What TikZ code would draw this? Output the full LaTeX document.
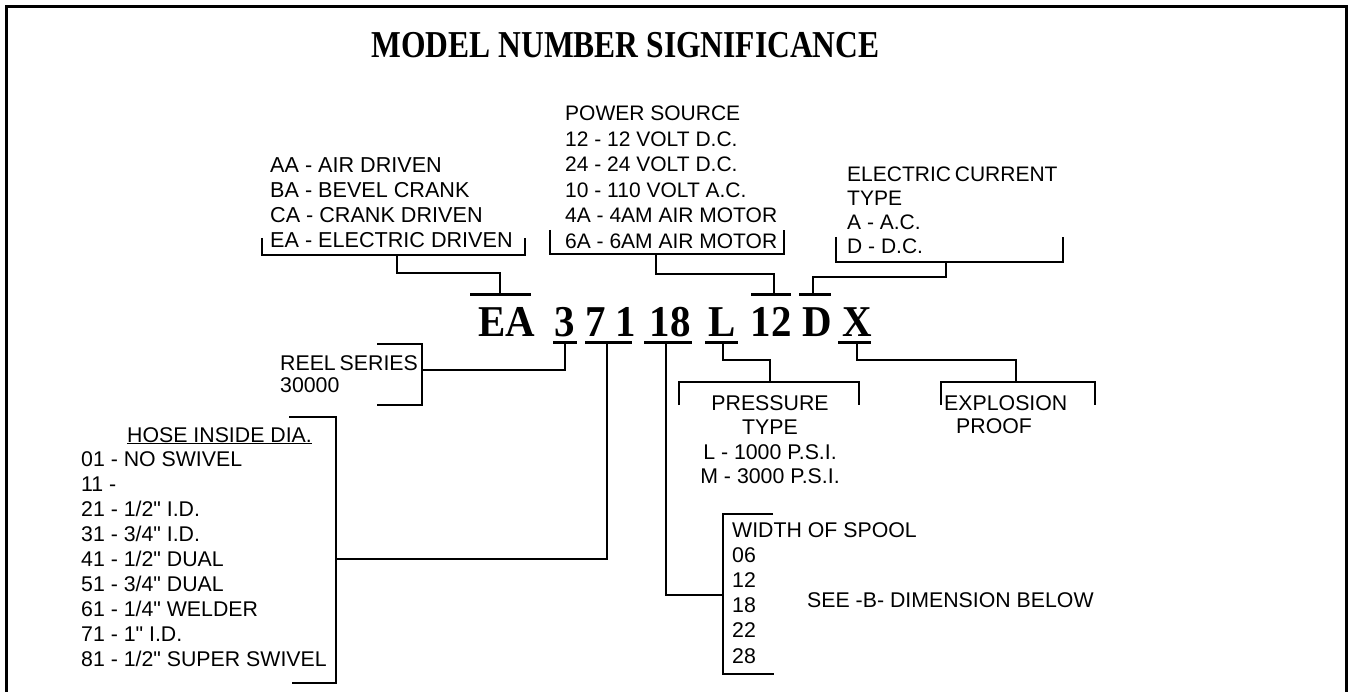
\documentclass[tikz,border=0pt]{standalone}
\usepackage{fontspec}
\usepackage{graphicx}
\setmainfont{Liberation Sans}[Ligatures=TeXOff]
\newfontfamily\tnr{Liberation Serif}
\tikzset{
  lbl/.style={inner sep=0pt, anchor=base west},
  clbl/.style={inner sep=0pt, anchor=base},
  conn/.style={line width=1.3pt},
  bar/.style={line width=3pt},
  digit/.style={inner sep=0pt, anchor=base, font=\tnr\bfseries\fontsize{44}{44}\selectfont},
  ttl/.style={inner sep=0pt, anchor=base, font=\tnr\bfseries\fontsize{38}{38}\selectfont},
}
\begin{document}
\begin{tikzpicture}[x=1pt,y=-1pt]
\useasboundingbox (0,0) rectangle (1348,692);
\draw[line width=2.5pt] (6.5,692) -- (6.5,6.5) -- (1346.5,6.5) -- (1346.5,692);

% title
\node[ttl] (title) at (625.5,58) {\scalebox{0.83}[1]{MODEL NUMBER SIGNIFICANCE}};

% model number
\node[digit] (mEA) at (506.5,336) {\scalebox{0.93}[1]{EA}};
\node[digit] (m3) at (565,336) {\scalebox{0.93}[1]{3}};
\node[digit] (m7) at (596,336) {\scalebox{0.93}[1]{7}};
\node[digit] (m1) at (625.5,336) {\scalebox{0.93}[1]{1}};
\node[digit] (m18) at (670,336) {\scalebox{0.93}[1]{18}};
\node[digit] (mL) at (722,336) {\scalebox{0.93}[1]{L}};
\node[digit] (m12) at (771,336) {\scalebox{0.93}[1]{12}};
\node[digit] (mD) at (817.5,336) {\scalebox{0.93}[1]{D}};
\node[digit] (mX) at (857,336) {\scalebox{0.93}[1]{X}};

% bars over / under characters
\coordinate (bEA) at (500,295);  \draw[bar] (470,295) -- (531,295);
\coordinate (b12) at (774,295);  \draw[bar] (751,295) -- (791,295);
\coordinate (bD)  at (813,295);  \draw[bar] (799,295) -- (831,295);
\coordinate (b3)  at (565,342);  \draw[bar] (553,342) -- (577,342);
\coordinate (b71) at (607,342);  \draw[bar] (585,342) -- (632,342);
\coordinate (b18) at (666,342);  \draw[bar] (644,342) -- (692,342);
\coordinate (bL)  at (723,342);  \draw[bar] (705,342) -- (738,342);
\coordinate (bX)  at (857,342);  \draw[bar] (838,342) -- (871,342);

% text blocks
\node[lbl, font=\fontsize{21.6}{24.7}\selectfont] (drive) at (270,173)
  {\begin{tabular}[t]{@{}l@{}}AA - AIR DRIVEN\\BA - BEVEL CRANK\\CA - CRANK DRIVEN\\EA - ELECTRIC DRIVEN\end{tabular}};
\node[lbl, font=\fontsize{21}{25.5}\selectfont] (power) at (565,121)
  {\begin{tabular}[t]{@{}l@{}}POWER SOURCE\\12 - 12 VOLT D.C.\\24 - 24 VOLT D.C.\\10 - 110 VOLT A.C.\\4A - 4AM AIR MOTOR\\6A - 6AM AIR MOTOR\end{tabular}};
\node[lbl, font=\fontsize{21}{24}\selectfont] (current) at (847,182)
  {\begin{tabular}[t]{@{}l@{}}ELECTRIC\hspace{-2pt} CURRENT\\TYPE\\A - A.C.\\D - D.C.\end{tabular}};
\node[lbl, font=\fontsize{21.3}{22}\selectfont] (reel) at (280,370)
  {\begin{tabular}[t]{@{}l@{}}REEL\hspace{-2pt} SERIES\\30000\end{tabular}};
\node[lbl, font=\fontsize{21.3}{24}\selectfont] (hosettl) at (127,442) {\underline{HOSE INSIDE DIA.}};
\node[lbl, font=\fontsize{21.3}{25.1}\selectfont] (hose) at (81,466)
  {\begin{tabular}[t]{@{}l@{}}01 - NO SWIVEL\\11 -\\21 - 1/2" I.D.\\31 - 3/4" I.D.\\41 - 1/2" DUAL\\51 - 3/4" DUAL\\61 - 1/4" WELDER\\71 - 1" I.D.\\81 - 1/2" SUPER SWIVEL\end{tabular}};
\node[clbl, font=\fontsize{21.3}{24.5}\selectfont] (press) at (770,410)
  {\begin{tabular}[t]{@{}c@{}}PRESSURE\\TYPE\\L - 1000 P.S.I.\\M - 3000 P.S.I.\end{tabular}};
\node[lbl, font=\fontsize{21.3}{23}\selectfont] (expl) at (944,410)
  {\begin{tabular}[t]{@{}l@{}}EXPLOSION\\\hspace{12pt}PROOF\end{tabular}};
\node[lbl, font=\fontsize{21.3}{25.2}\selectfont] (spool) at (732,537)
  {\begin{tabular}[t]{@{}l@{}}WIDTH OF SPOOL\\06\\12\\18\\22\\28\end{tabular}};
\node[lbl, font=\fontsize{21.3}{25}\selectfont] (seeb) at (807,607) {SEE -B- DIMENSION BELOW};

% brackets
\draw[conn] (262,238) -- (262,255) -- (525,255) -- (525,238);
\coordinate (kDrive) at (397,255);
\draw[conn] (550,230) -- (550,254) -- (784,254) -- (784,230);
\coordinate (kPower) at (656,254);
\draw[conn] (836,237) -- (836,262) -- (1063,262) -- (1063,237);
\coordinate (kCur) at (946,262);
\draw[conn] (377,344) -- (422,344) -- (422,405) -- (377,405);
\coordinate (kReel) at (422,370);
\draw[conn] (289,417) -- (336,417) -- (336,683) -- (292,683);
\coordinate (kHose) at (336,559);
\draw[conn] (773,514) -- (723,514) -- (723,674) -- (774,674);
\coordinate (kSpool) at (723,595);
\draw[conn] (679,405) -- (679,382) -- (859,382) -- (859,405);
\coordinate (kPress) at (770,382);
\draw[conn] (941,405) -- (941,382) -- (1095,382) -- (1095,405);
\coordinate (kExpl) at (1016,382);

% connectors
\draw[conn] (kDrive) -- ++(0,18) -| (bEA);
\draw[conn] (kPower) -- ++(0,20) -| (b12);
\draw[conn] (kCur) -- ++(0,15) -| (bD);
\draw[conn] (b3) |- (kReel);
\draw[conn] (b71) |- (kHose);
\draw[conn] (b18) |- (kSpool);
\draw[conn] (bL) -- ++(0,18) -| (kPress);
\draw[conn] (bX) -- ++(0,18) -| (kExpl);
\end{tikzpicture}
\end{document}
